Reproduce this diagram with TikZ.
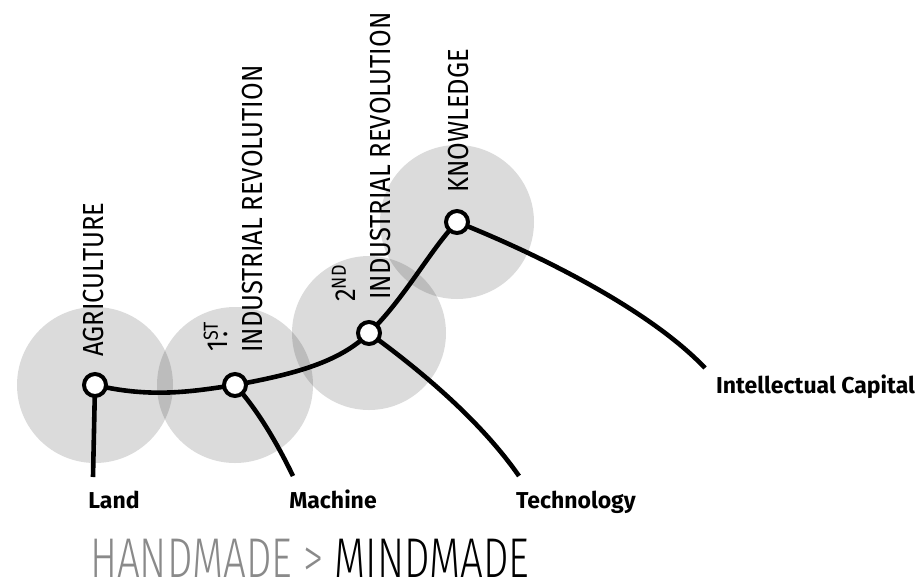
\documentclass[tikz,border=0pt]{standalone}
\usepackage{fontspec}
\setmainfont{Fira Sans}
\newfontfamily\capsfont[FakeStretch=0.88]{Fira Sans}
\newfontfamily\titlefont[FakeStretch=0.72]{Fira Sans Light}
\usetikzlibrary{calc}
\definecolor{handgray}{HTML}{8A8A8A}

\begin{document}
\begin{tikzpicture}[x=1pt,y=-1pt]
		\tikzset{
			era/.style={fill=black,fill opacity=.14,draw=none},
			stage/.style={circle,draw,line width=4pt,fill=white,minimum size=22pt,inner sep=0pt},
			link/.style={line width=4.6pt},
			eralabel/.style={rotate=90,anchor=base west,inner sep=0pt,font=\capsfont\fontsize{29}{29}\selectfont},
			asset/.style={anchor=base,inner sep=0pt,font=\bfseries\fontsize{23}{23}\selectfont}
		}
		\useasboundingbox (0,0) rectangle (916,587);
		
		\coordinate (Agri) at (95,385);
		\coordinate (First) at (235,385);
		\coordinate (Second) at (369,333);
		\coordinate (Know) at (457,222);
		
		% shaded eras
		\fill[era] (Agri) circle (78);
		\fill[era] (First) circle (78);
		\fill[era] (Second) circle (77);
		\fill[era] (Know) circle (77);
		
		% era titles
		\node[eralabel] (agrilabel) at (103,357) {AGRICULTURE};
		\node[eralabel] (firstnum) at (227,352) {1\textsuperscript{ST}\kern-.55em.\kern.4em};
		\node[eralabel] (firstlabel) at (262,353) {INDUSTRIAL REVOLUTION};
		\node[eralabel] (secondnum) at (355,302) {2\textsuperscript{ND}};
		\node[eralabel] (secondlabel) at (390,300) {INDUSTRIAL REVOLUTION};
		\node[eralabel] (knowlabel) at (468,193) {KNOWLEDGE};
		
		% resources
		\node[asset] (land) at (114,508) {Land};
		\node[asset] (machine) at (333,508) {Machine};
		\node[asset] (tech) at (576,508) {Technology};
		\node[asset,anchor=base west] (capital) at (716,393) {Intellectual Capital};
		
		\coordinate (LandEnd) at (93,477);
		\coordinate (MachineEnd) at (293,476);
		\coordinate (TechEnd) at (519,476);
		\coordinate (CapitalEnd) at (705,368);
		
		% the path of eras
		\draw[link] (Agri) .. controls (150,398) and (190,392) .. (First)
			.. controls (295,374) and (340,362) .. (Second)
			.. controls (405,298) and (430,250) .. (Know);
		\draw[link] (Agri) -- (LandEnd);
		\draw[link] (First) .. controls (258,410) and (278,445) .. (MachineEnd);
		\draw[link] (Second) .. controls (420,370) and (480,420) .. (TechEnd);
		\draw[link] (Know) .. controls (540,255) and (650,310) .. (CapitalEnd);
		
		\foreach \p in {Agri,First,Second,Know}
			\node[stage] at (\p) {};
		
		\node[anchor=base west,inner sep=0pt,text depth=0pt,font=\titlefont\fontsize{56}{56}\selectfont] (title) at (90,577) {\textcolor{handgray}{HANDMADE >} MINDMADE};
	\end{tikzpicture}
\end{document}
